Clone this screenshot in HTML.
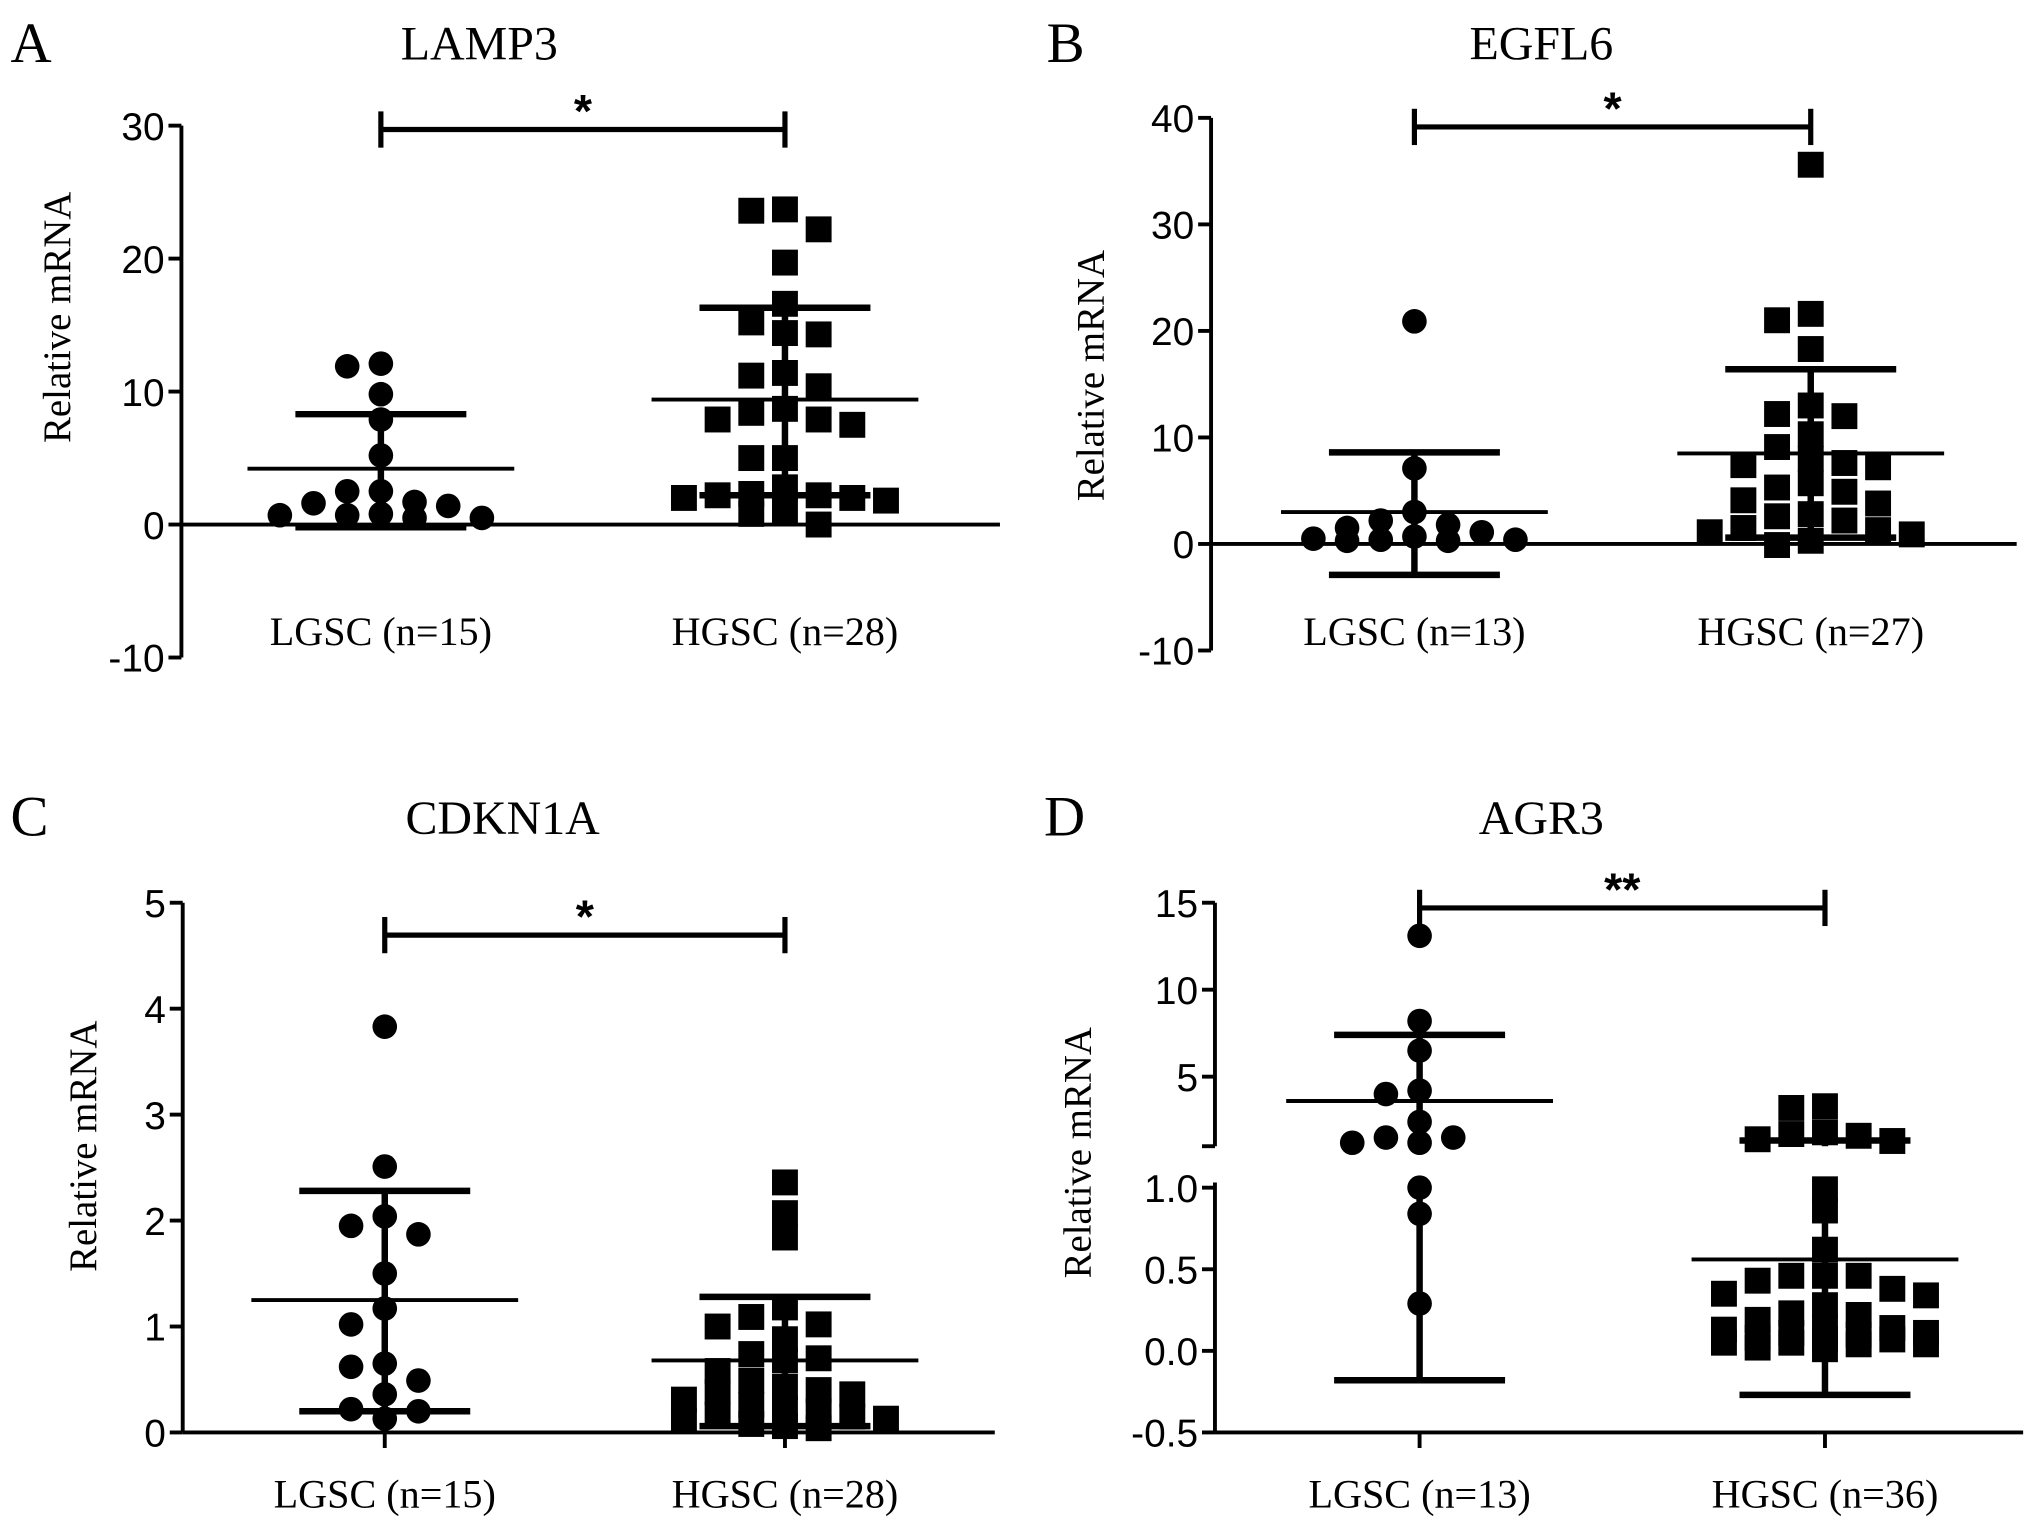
<!DOCTYPE html>
<html><head><meta charset="utf-8"><style>
html,body{margin:0;padding:0;background:#fff;}
svg{display:block;}
text{fill:#000;}
.serif{font-family:"Liberation Serif",serif;}
.sans{font-family:"Liberation Sans",sans-serif;}
</style></head><body>
<svg id="fig" width="2031" height="1527" viewBox="0 0 1568 1179" xmlns="http://www.w3.org/2000/svg"></svg>
<script>
// ---- data ----
const categories = ["LGSC", "HGSC"];
const lamp3Lgsc = [12.1,11.9,9.8,7.9,5.2,2.5,2.5,1.7,1.4,1.6,0.7,0.5,0.7,0.8,0.5];
const lamp3Hgsc = [23.7,23.6,22.2,19.7,16.6,15.2,14.4,14.3,11.4,11.2,10.4,8.7,7.9,7.5,7.9,8.4,5.0,5.0,2.8,2.3,2.2,2.0,1.8,2.2,1.0,0.8,0.0,2.0];
const lamp3Mean = [4.2, 9.4];
const lamp3Upper = [8.3, 16.3];
const lamp3Lower = [-0.2, 2.2];
const lamp3Ticks = [-10, 0, 10, 20, 30];

const egfl6Lgsc = [20.9,7.1,3.0,2.2,1.8,1.5,1.1,0.7,0.5,0.3,0.3,0.4,0.4];
const egfl6Hgsc = [35.6,21.6,21.0,18.3,13.0,12.2,12.0,10.3,9.1,8.0,7.6,7.4,7.2,5.7,5.3,4.9,4.1,3.8,2.8,2.6,2.2,1.5,1.3,1.1,0.9,0.3,-0.1];
const egfl6Mean = [3.0, 8.5];
const egfl6Upper = [8.6, 16.4];
const egfl6Lower = [-2.9, 0.6];
const egfl6Ticks = [-10, 0, 10, 20, 30, 40];

const cdknLgsc = [3.83,2.51,2.04,1.95,1.87,1.50,1.17,1.02,0.62,0.65,0.49,0.36,0.22,0.20,0.13];
const cdknHgsc = [2.36,2.07,1.84,1.18,1.09,1.02,1.0,0.88,0.74,0.70,0.68,0.58,0.49,0.40,0.36,0.31,0.26,0.22,0.20,0.17,0.15,0.13,0.11,0.08,0.06,0.04,0.38,0.43];
const cdknMean = [1.25, 0.68];
const cdknUpper = [2.28, 1.28];
const cdknLower = [0.2, 0.06];
const cdknTicks = [0, 1, 2, 3, 4, 5];

const agr3Lgsc = [13.1,8.2,6.5,4.2,4.0,2.4,1.5,1.2,1.2,1.5,1.0,0.84,0.29];
const agr3Hgsc = [3.3,3.2,1.8,1.7,1.4,1.3,1.6,0.99,0.86,0.62,0.46,0.46,0.46,0.43,0.38,0.35,0.34,0.28,0.23,0.22,0.19,0.14,0.13,0.11,0.10,0.08,0.07,0.05,0.04,0.02,0.04,0.05,0.01,0.07,0.11,0.14];
const agr3Mean = [3.6, 0.56];
const agr3Upper = [7.4, 1.33];
const agr3Lower = [-0.18, -0.27];
const agr3TicksLow = [-0.5, 0.0, 0.5, 1.0];
const agr3TicksHigh = [5, 10, 15];

// ---- drawing ----
const svg = document.getElementById('fig');
const NS = 'http://www.w3.org/2000/svg';
function mk(tag, attrs, parent){
  const e = document.createElementNS(NS, tag);
  for (const k in attrs) e.setAttribute(k, attrs[k]);
  (parent||svg).appendChild(e);
  return e;
}
function line(g,x1,y1,x2,y2,w){ return mk('line',{x1:x1,y1:y1,x2:x2,y2:y2,stroke:'#000','stroke-width':w||3},g); }
function txt(g,x,y,s,cls,size,anchor,extra){
  const t = mk('text',Object.assign({x:x,y:y,class:cls,'font-size':size,'text-anchor':anchor||'middle'},extra||{}),g);
  t.textContent = s; return t;
}
// beeswarm x placement (allows overlap, limited width)
function swarm(vals, yf, cx, spacing, minDist){
  const idx = vals.map((v,i)=>i).sort((a,b)=>vals[b]-vals[a]);
  const placed = []; const xs = new Array(vals.length);
  const slots = [0,-1,1,-2,2,-3,3];
  idx.forEach(i=>{
    const y = yf(vals[i]);
    let best = null, bestD = -1;
    for (const s of slots){
      const x = cx + s*spacing;
      const d = placed.length ? Math.min(...placed.map(p=>Math.hypot(p[0]-x,p[1]-y))) : 1e9;
      if (d >= minDist){ best = x; break; }
      if (d > bestD){ bestD = d; best = x; }
    }
    xs[i] = best; placed.push([best,y]);
  });
  return xs;
}

function panel(cfg){
  const g = mk('g',{});
  
  
  const L = txt(g, cfg.letterX, cfg.letterY, cfg.letter, 'serif', 44, 'start');
  
  
  const T = txt(g, cfg.titleX, cfg.titleY, cfg.title, 'serif', 37);
  
  
  const YL = txt(g, 0, 0, 'Relative mRNA', 'serif', 30, 'middle', {transform:`translate(${cfg.ylabX},${cfg.ylabY}) rotate(-90)`});
  
  
  const y = cfg.y, ax = cfg.axisX;
  cfg.axisSegs.forEach(s=>{
    const a = line(g, ax, s[0], ax, s[1], 3);
    
    
  });
  cfg.ticks.forEach(t=>{
    line(g, ax-10, y(t), ax, y(t), 3);
    const tl = txt(g, ax-13, y(t)+11, cfg.tickFmt ? cfg.tickFmt(t) : String(t), 'sans', 30, 'end');
    
    
  });
  (cfg.extraTicks||[]).forEach(yy=>line(g, ax-10, yy, ax, yy, 3));
  const xa = line(g, ax, y(cfg.xAxisVal), cfg.axisEnd, y(cfg.xAxisVal), 3);
  
  
  cfg.centers.forEach((cx,i)=>{
    if (cfg.catTicks) line(g, cx, y(cfg.xAxisVal), cx, y(cfg.xAxisVal)+12, 3);
    const cl = txt(g, cx, cfg.catY, cfg.catLabels[i], 'serif', 31);
    
    
  });
  cfg.centers.forEach((cx,i)=>{
    const segs = cfg.vsegs ? cfg.vsegs(cfg.lower[i], cfg.upper[i]) : [[y(cfg.lower[i]), y(cfg.upper[i])]];
    segs.forEach(s=>{
      const v = line(g, cx, s[0], cx, s[1], 5);
      
      
    });
    line(g, cx-66, y(cfg.upper[i]), cx+66, y(cfg.upper[i]), 5);
    line(g, cx-66, y(cfg.lower[i]), cx+66, y(cfg.lower[i]), 5);
    const m = line(g, cx-103, y(cfg.mean[i]), cx+103, y(cfg.mean[i]), 3);
    
    
  });
  cfg.series.forEach((vals,i)=>{
    const xs = swarm(vals, y, cfg.centers[i], 26, 16);
    vals.forEach((v,j)=>{
      let p;
      if (i===0) p = mk('circle',{cx:xs[j],cy:y(v),r:9.5,fill:'#000'},g);
      else p = mk('rect',{x:xs[j]-10,y:y(v)-10,width:20,height:20,fill:'#000'},g);
      
      
    });
  });
  const sb = line(g, cfg.centers[0], cfg.sigY, cfg.centers[1], cfg.sigY, 4);
  
  
  line(g, cfg.centers[0], cfg.sigY-14, cfg.centers[0], cfg.sigY+14, 4);
  line(g, cfg.centers[1], cfg.sigY-14, cfg.centers[1], cfg.sigY+14, 4);
  const st = txt(g, (cfg.centers[0]+cfg.centers[1])/2, cfg.sigY-2, cfg.stars, 'sans', 36, 'middle', {'font-weight':'bold'});
  
  
}

function linScale(v0,p0,v1,p1){ return v => p0 + (v-v0)*(p1-p0)/(v1-v0); }

const yA = linScale(0,405,30,97);
panel({name:'lamp3', letter:'A', letterX:8, letterY:48, title:'LAMP3', titleX:370, titleY:46,
  ylabX:54, ylabY:245, y:yA, axisX:140, axisSegs:[[yA(30),yA(-10)]], ticks:lamp3Ticks,
  xAxisVal:0, axisEnd:772, centers:[294,606], catY:498, catLabels:['LGSC (n=15)','HGSC (n=28)'],
  series:[lamp3Lgsc,lamp3Hgsc], mean:lamp3Mean, upper:lamp3Upper, lower:lamp3Lower, sigY:100, stars:'*'});

const yB = linScale(0,420,40,91);
panel({name:'egfl6', letter:'B', letterX:808, letterY:48, title:'EGFL6', titleX:1190, titleY:46,
  ylabX:852, ylabY:290, y:yB, axisX:935, axisSegs:[[yB(40),yB(-10)]], ticks:egfl6Ticks,
  xAxisVal:0, axisEnd:1557, centers:[1092,1398], catY:498, catLabels:['LGSC (n=13)','HGSC (n=27)'],
  series:[egfl6Lgsc,egfl6Hgsc], mean:egfl6Mean, upper:egfl6Upper, lower:egfl6Lower, sigY:98, stars:'*'});

const yC = linScale(0,1106,5,697);
panel({name:'cdkn1a', letter:'C', letterX:8, letterY:645, title:'CDKN1A', titleX:388, titleY:644,
  ylabX:74, ylabY:885, y:yC, axisX:141, axisSegs:[[yC(5),yC(0)]], ticks:cdknTicks,
  xAxisVal:0, axisEnd:768, centers:[297,606], catTicks:true, catY:1164, catLabels:['LGSC (n=15)','HGSC (n=28)'],
  series:[cdknLgsc,cdknHgsc], mean:cdknMean, upper:cdknUpper, lower:cdknLower, sigY:722, stars:'*'});

const yDhigh = linScale(15,697,1,885);
const yDlow = linScale(1,917,-0.5,1106);
const yD = v => v > 1.0001 ? yDhigh(v) : yDlow(v);
panel({name:'agr3', letter:'D', letterX:806, letterY:645, title:'AGR3', titleX:1190, titleY:644,
  ylabX:842, ylabY:890, y:yD, axisX:938, axisSegs:[[697,885],[913,1106]],
  ticks:agr3TicksLow.concat(agr3TicksHigh), tickFmt:t=> t>=5 ? String(t) : t.toFixed(1), extraTicks:[885],
  xAxisVal:-0.5, axisEnd:1562, centers:[1096,1409], catTicks:true, catY:1164, catLabels:['LGSC (n=13)','HGSC (n=36)'],
  series:[agr3Lgsc,agr3Hgsc], mean:agr3Mean, upper:agr3Upper, lower:agr3Lower, sigY:701, stars:'**',
  vsegs:(lo,hi)=> hi>1 ? [[yD(lo),913],[885,yD(hi)]] : [[yD(lo),yD(hi)]]});
</script>
</body></html>
